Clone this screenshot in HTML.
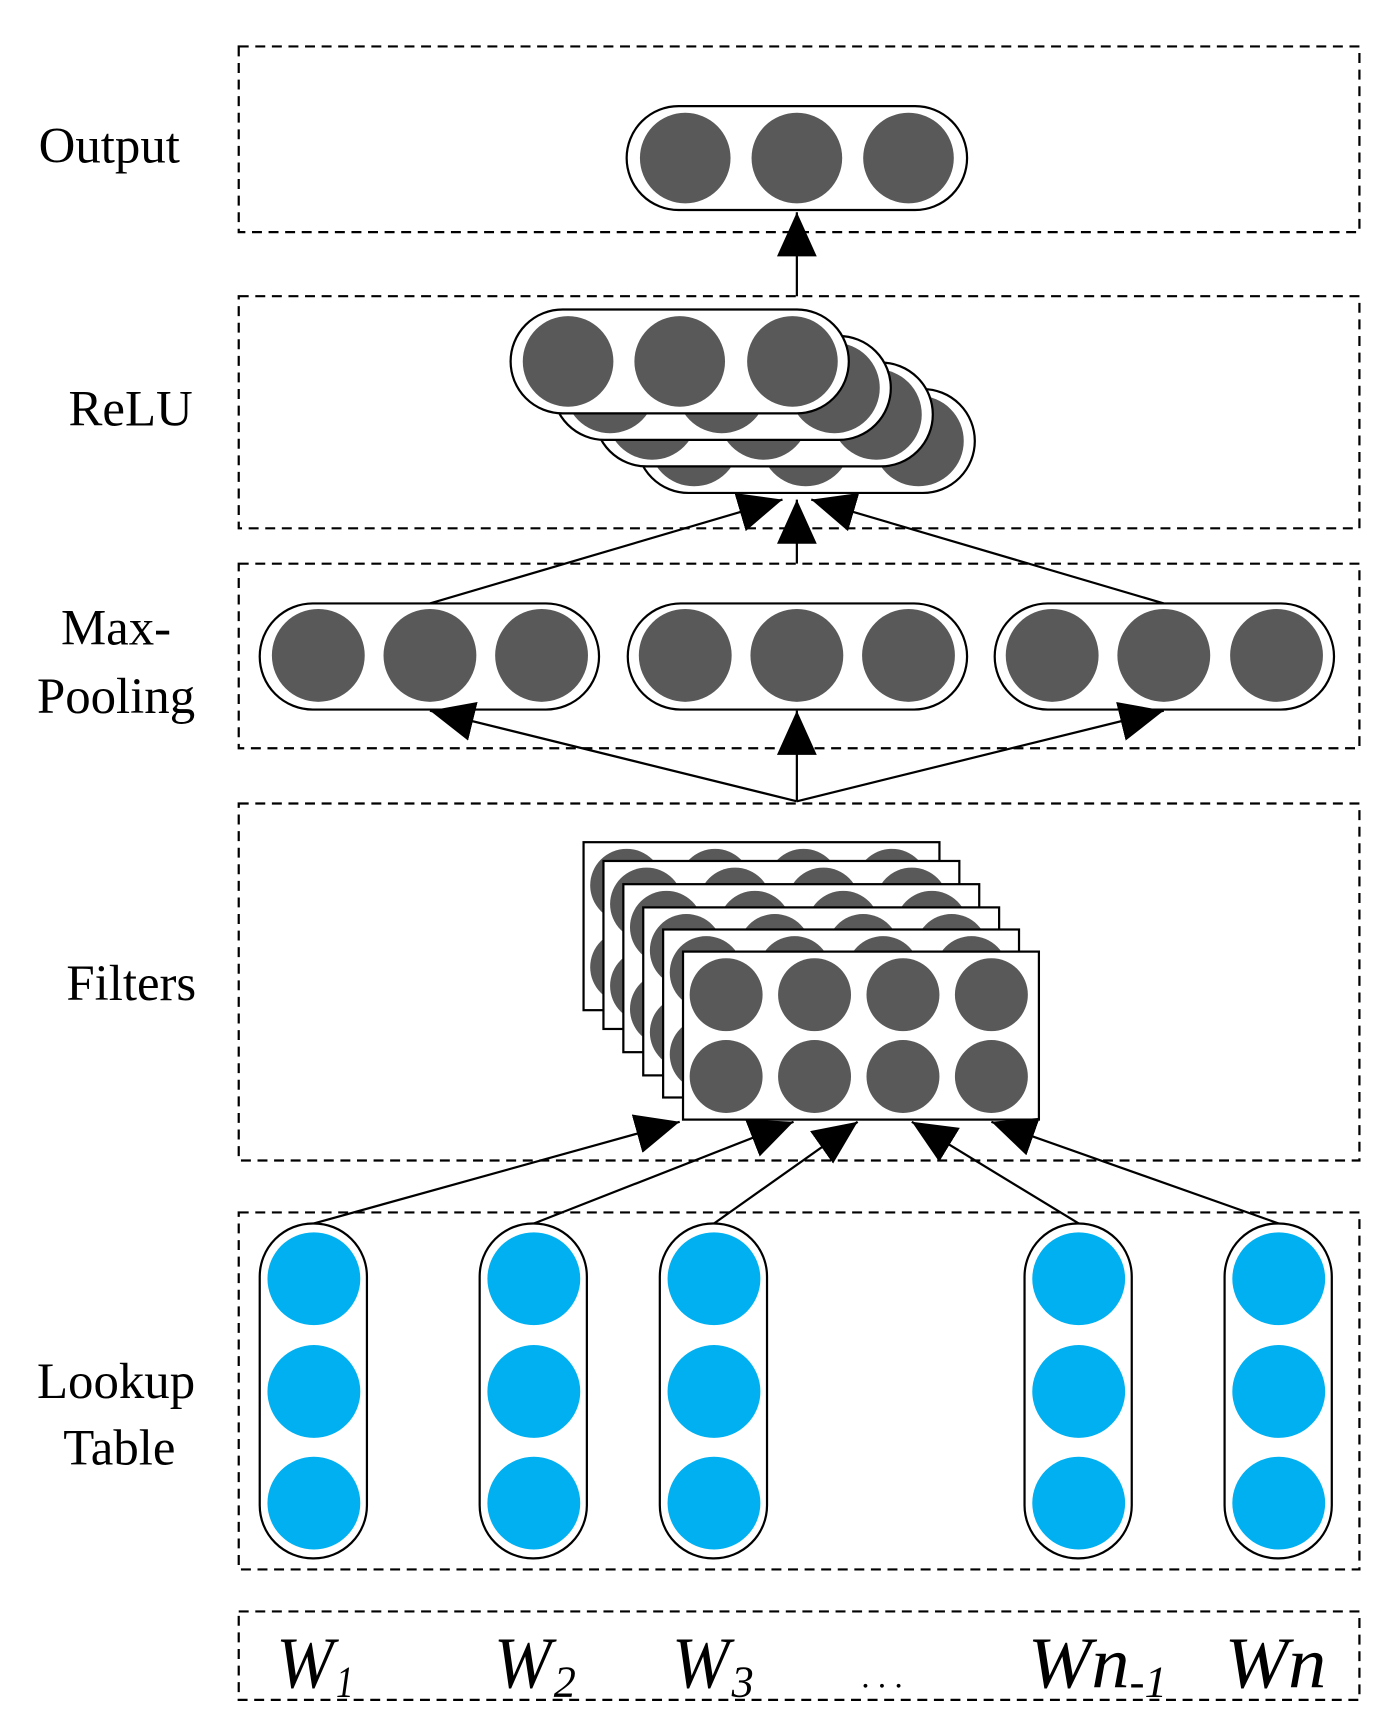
<!DOCTYPE html>
<html><head><meta charset="utf-8"><style>html,body{margin:0;padding:0;background:#fff}svg{display:block}</style></head>
<body>
<svg width="1397" height="1733" viewBox="0 0 1264 1568" xmlns="http://www.w3.org/2000/svg" font-family="'Liberation Serif', serif">
<defs>
<marker id="ah" viewBox="0 0 10 10" refX="10" refY="5" markerWidth="9" markerHeight="9" markerUnits="userSpaceOnUse" orient="auto"><path d="M0,0 L10,5 L0,10 z"/></marker>
<marker id="a" viewBox="0 0 40 36" refX="40" refY="18" markerWidth="40" markerHeight="36" markerUnits="userSpaceOnUse" orient="auto"><path d="M0,0 L40,18 L0,36 z" fill="#000"/></marker>
</defs>
<g fill="none" stroke="#000" stroke-width="2" stroke-dasharray="9,6">
<rect x="216" y="42" width="1014" height="168"/>
<rect x="216" y="268" width="1014" height="210"/>
<rect x="216" y="510" width="1014" height="167"/>
<rect x="216" y="727" width="1014" height="323"/>
<rect x="216" y="1097" width="1014" height="323"/>
<rect x="216" y="1458" width="1014" height="80"/>
</g>
<g font-size="46" fill="#000">
<text x="35" y="147">Output</text>
<text x="62" y="385">ReLU</text>
<text x="105" y="583" text-anchor="middle">Max-</text>
<text x="105" y="645" text-anchor="middle">Pooling</text>
<text x="60" y="905">Filters</text>
<text x="105" y="1265" text-anchor="middle">Lookup</text>
<text x="108" y="1325" text-anchor="middle">Table</text>
</g>
<g font-size="66" font-style="italic" fill="#000">
<text x="250" y="1527" textLength="52" lengthAdjust="spacingAndGlyphs">W</text><text x="304" y="1535" font-size="40" textLength="16" lengthAdjust="spacingAndGlyphs">1</text>
<text x="447" y="1527" textLength="52" lengthAdjust="spacingAndGlyphs">W</text><text x="501" y="1535" font-size="40" textLength="20" lengthAdjust="spacingAndGlyphs">2</text>
<text x="608" y="1527" textLength="52" lengthAdjust="spacingAndGlyphs">W</text><text x="662" y="1535" font-size="40" textLength="20" lengthAdjust="spacingAndGlyphs">3</text>
<text x="780" y="1527" font-size="30">. . .</text>
<text x="930" y="1527" textLength="92" lengthAdjust="spacingAndGlyphs">Wn</text><text x="1022" y="1535" font-size="40" textLength="34" lengthAdjust="spacingAndGlyphs">-1</text>
<text x="1108" y="1527" textLength="92" lengthAdjust="spacingAndGlyphs">Wn</text>
</g>
<!-- Output -->
<rect x="567" y="96" width="308" height="94" rx="47" fill="#fff" stroke="#000" stroke-width="2"/>
<g fill="#595959"><circle cx="620" cy="143" r="41"/><circle cx="721" cy="143" r="41"/><circle cx="822" cy="143" r="41"/></g>
<line x1="721" y1="268" x2="721" y2="192" stroke="#000" stroke-width="2" marker-end="url(#a)"/>
<!-- ReLU stacked -->
<g stroke="#000" stroke-width="2">
<g transform="translate(114,72)"><rect x="462" y="280" width="306" height="94" rx="47" fill="#fff"/><g fill="#595959" stroke="none"><circle cx="514" cy="327" r="41"/><circle cx="615" cy="327" r="41"/><circle cx="717" cy="327" r="41"/></g></g>
<g transform="translate(76,48)"><rect x="462" y="280" width="306" height="94" rx="47" fill="#fff"/><g fill="#595959" stroke="none"><circle cx="514" cy="327" r="41"/><circle cx="615" cy="327" r="41"/><circle cx="717" cy="327" r="41"/></g></g>
<g transform="translate(38,24)"><rect x="462" y="280" width="306" height="94" rx="47" fill="#fff"/><g fill="#595959" stroke="none"><circle cx="514" cy="327" r="41"/><circle cx="615" cy="327" r="41"/><circle cx="717" cy="327" r="41"/></g></g>
<g><rect x="462" y="280" width="306" height="94" rx="47" fill="#fff"/><g fill="#595959" stroke="none"><circle cx="514" cy="327" r="41"/><circle cx="615" cy="327" r="41"/><circle cx="717" cy="327" r="41"/></g></g>
</g>
<!-- maxpool to relu -->
<g stroke="#000" stroke-width="2">
<line x1="389" y1="546" x2="708" y2="452" marker-end="url(#a)"/>
<line x1="721" y1="510" x2="721" y2="452" marker-end="url(#a)"/>
<line x1="1053" y1="546" x2="734" y2="452" marker-end="url(#a)"/>
</g>
<!-- Max pooling -->
<g stroke="#000" stroke-width="2" fill="#fff">
<rect x="235" y="546" width="307" height="96" rx="48"/>
<rect x="568" y="546" width="307" height="96" rx="48"/>
<rect x="900" y="546" width="307" height="96" rx="48"/>
</g>
<g fill="#595959">
<circle cx="288" cy="593" r="42"/><circle cx="389" cy="593" r="42"/><circle cx="490" cy="593" r="42"/>
<circle cx="620" cy="593" r="42"/><circle cx="721" cy="593" r="42"/><circle cx="822" cy="593" r="42"/>
<circle cx="952" cy="593" r="42"/><circle cx="1053" cy="593" r="42"/><circle cx="1155" cy="593" r="42"/>
</g>
<g stroke="#000" stroke-width="2">
<line x1="721" y1="725" x2="389" y2="643" marker-end="url(#a)"/>
<line x1="721" y1="725" x2="721" y2="643" marker-end="url(#a)"/>
<line x1="721" y1="725" x2="1053" y2="643" marker-end="url(#a)"/>
</g>
<!-- Filters -->
<g id="f0" stroke="#000" stroke-width="2">
<g transform="translate(-90,-99)"><rect x="618" y="861" width="322" height="152" fill="#fff"/><g fill="#595959" stroke="none"><circle cx="657" cy="900" r="33"/><circle cx="737" cy="900" r="33"/><circle cx="817" cy="900" r="33"/><circle cx="897" cy="900" r="33"/><circle cx="657" cy="974" r="33"/><circle cx="737" cy="974" r="33"/><circle cx="817" cy="974" r="33"/><circle cx="897" cy="974" r="33"/></g></g>
<g transform="translate(-72,-82)"><rect x="618" y="861" width="322" height="152" fill="#fff"/><g fill="#595959" stroke="none"><circle cx="657" cy="900" r="33"/><circle cx="737" cy="900" r="33"/><circle cx="817" cy="900" r="33"/><circle cx="897" cy="900" r="33"/><circle cx="657" cy="974" r="33"/><circle cx="737" cy="974" r="33"/><circle cx="817" cy="974" r="33"/><circle cx="897" cy="974" r="33"/></g></g>
<g transform="translate(-54,-61)"><rect x="618" y="861" width="322" height="152" fill="#fff"/><g fill="#595959" stroke="none"><circle cx="657" cy="900" r="33"/><circle cx="737" cy="900" r="33"/><circle cx="817" cy="900" r="33"/><circle cx="897" cy="900" r="33"/><circle cx="657" cy="974" r="33"/><circle cx="737" cy="974" r="33"/><circle cx="817" cy="974" r="33"/><circle cx="897" cy="974" r="33"/></g></g>
<g transform="translate(-36,-40)"><rect x="618" y="861" width="322" height="152" fill="#fff"/><g fill="#595959" stroke="none"><circle cx="657" cy="900" r="33"/><circle cx="737" cy="900" r="33"/><circle cx="817" cy="900" r="33"/><circle cx="897" cy="900" r="33"/><circle cx="657" cy="974" r="33"/><circle cx="737" cy="974" r="33"/><circle cx="817" cy="974" r="33"/><circle cx="897" cy="974" r="33"/></g></g>
<g transform="translate(-18,-20)"><rect x="618" y="861" width="322" height="152" fill="#fff"/><g fill="#595959" stroke="none"><circle cx="657" cy="900" r="33"/><circle cx="737" cy="900" r="33"/><circle cx="817" cy="900" r="33"/><circle cx="897" cy="900" r="33"/><circle cx="657" cy="974" r="33"/><circle cx="737" cy="974" r="33"/><circle cx="817" cy="974" r="33"/><circle cx="897" cy="974" r="33"/></g></g>
<g><rect x="618" y="861" width="322" height="152" fill="#fff"/><g fill="#595959" stroke="none"><circle cx="657" cy="900" r="33"/><circle cx="737" cy="900" r="33"/><circle cx="817" cy="900" r="33"/><circle cx="897" cy="900" r="33"/><circle cx="657" cy="974" r="33"/><circle cx="737" cy="974" r="33"/><circle cx="817" cy="974" r="33"/><circle cx="897" cy="974" r="33"/></g></g>
</g>
<!-- lookup arrows -->
<g stroke="#000" stroke-width="2">
<line x1="284" y1="1107" x2="615" y2="1015" marker-end="url(#a)"/>
<line x1="483" y1="1107" x2="718" y2="1015" marker-end="url(#a)"/>
<line x1="646" y1="1107" x2="776" y2="1015" marker-end="url(#a)"/>
<line x1="976" y1="1107" x2="825" y2="1015" marker-end="url(#a)"/>
<line x1="1157" y1="1107" x2="897" y2="1015" marker-end="url(#a)"/>
</g>
<!-- lookup pills -->
<g stroke="#000" stroke-width="2" fill="#fff">
<rect x="235" y="1107" width="97" height="303" rx="48"/>
<rect x="434" y="1107" width="97" height="303" rx="48"/>
<rect x="597" y="1107" width="97" height="303" rx="48"/>
<rect x="927" y="1107" width="97" height="303" rx="48"/>
<rect x="1108" y="1107" width="97" height="303" rx="48"/>
</g>
<g fill="#00b0f0">
<circle cx="284" cy="1157" r="42"/><circle cx="284" cy="1259" r="42"/><circle cx="284" cy="1360" r="42"/>
<circle cx="483" cy="1157" r="42"/><circle cx="483" cy="1259" r="42"/><circle cx="483" cy="1360" r="42"/>
<circle cx="646" cy="1157" r="42"/><circle cx="646" cy="1259" r="42"/><circle cx="646" cy="1360" r="42"/>
<circle cx="976" cy="1157" r="42"/><circle cx="976" cy="1259" r="42"/><circle cx="976" cy="1360" r="42"/>
<circle cx="1157" cy="1157" r="42"/><circle cx="1157" cy="1259" r="42"/><circle cx="1157" cy="1360" r="42"/>
</g>
</svg>
</body></html>
